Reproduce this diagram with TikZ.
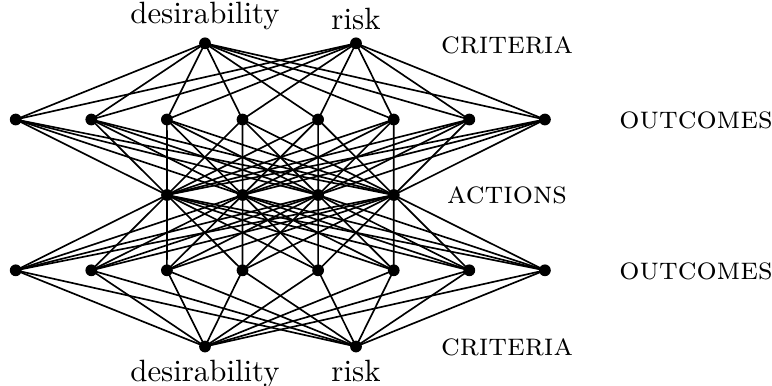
\documentclass[tikz,border=0pt]{standalone}
\begin{document}
\begin{tikzpicture}[x=0.3311pt,y=-0.3311pt,
  dot/.style={circle,fill=black,inner sep=0pt,minimum size=3.9pt},
  edge/.style={line width=0.55pt},
  lbl/.style={font=\fontsize{10.5pt}{12pt}\selectfont\scshape},
  crit/.style={font=\fontsize{10.2pt}{12pt}\selectfont}]
\useasboundingbox (0,0) rectangle (772,385);
% criteria top
\node[dot,label={[crit,inner sep=2pt]above:desirability}] (td) at (205,43.3) {};
\node[dot,label={[crit,inner sep=2pt]above:risk}] (tr) at (356,43.3) {};
% outcomes
\foreach \i in {1,...,8}{
  \node[dot] (o\i) at ({15.7+75.6*(\i-1)},119.5) {};
  \node[dot] (p\i) at ({15.7+75.6*(\i-1)},270.3) {};
}
% actions
\foreach \i in {1,...,4}{
  \node[dot] (a\i) at ({167+75.6*(\i-1)},195) {};
}
% criteria bottom
\node[dot,label={[crit,inner sep=2pt]below:desirability}] (bd) at (205,346.5) {};
\node[dot,label={[crit,inner sep=2pt]below:risk}] (br) at (356,346.5) {};
% edges
\foreach \i in {1,...,8}{
  \draw[edge] (td.center) -- (o\i.center);
  \draw[edge] (tr.center) -- (o\i.center);
  \draw[edge] (bd.center) -- (p\i.center);
  \draw[edge] (br.center) -- (p\i.center);
  \foreach \j in {1,...,4}{
    \draw[edge] (o\i.center) -- (a\j.center);
    \draw[edge] (a\j.center) -- (p\i.center);
  }
}
% layer labels
\node[lbl] (lc1) at (507,45) {criteria};
\node[lbl] (lo1) at (696,120) {outcomes};
\node[lbl] (la) at (507,195) {actions};
\node[lbl] (lo2) at (696,271) {outcomes};
\node[lbl] (lc2) at (507,347) {criteria};
\end{tikzpicture}
\end{document}
